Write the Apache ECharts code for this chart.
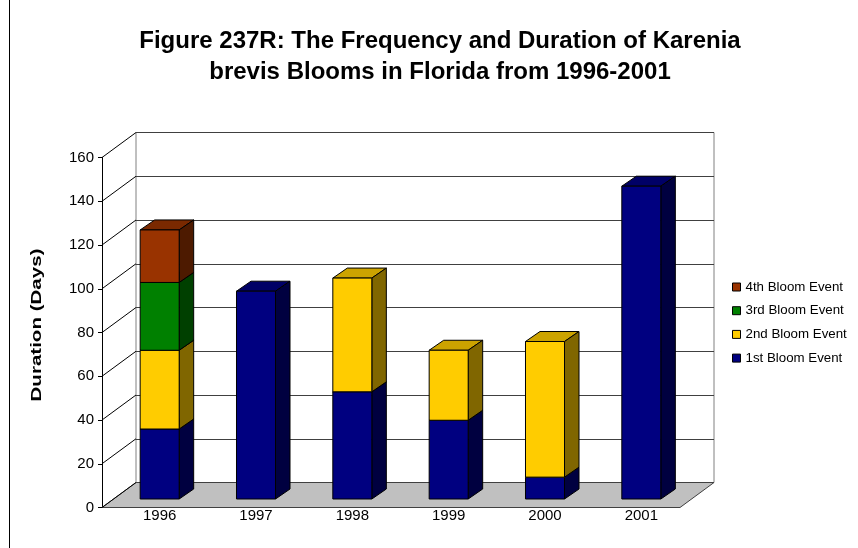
<!DOCTYPE html>
<html>
<head>
<meta charset="utf-8">
<script src="https://cdn.jsdelivr.net/npm/echarts@6/dist/echarts.min.js"></script>
<style>html,body{margin:0;padding:0;background:#fff}#c{width:858px;height:548px}</style>
</head>
<body>
<div id="c"></div>
<script>
// ---- data ----
const years = ['1996', '1997', '1998', '1999', '2000', '2001'];
const firstBloom  = [32, 95, 49, 36, 10, 143];
const secondBloom = [36, 0, 52, 32, 62, 0];
const thirdBloom  = [31, 0, 0, 0, 0, 0];
const fourthBloom = [24, 0, 0, 0, 0, 0];
const seriesNames = ['1st Bloom Event', '2nd Bloom Event', '3rd Bloom Event', '4th Bloom Event'];
const yTicks = [0, 20, 40, 60, 80, 100, 120, 140, 160];

// ---- styling constants ----
const DEPTH_DX = 34, DEPTH_DY = 25;     // wall depth (oblique projection)
const FRONT_DX = 9.5, FRONT_DY = 8.5;   // bar front face offset from front plane
const SIDE_DX = 14.5, SIDE_DY = 10;     // bar depth
const BAR_FRAC = 0.405;
const palette = [
  {front: '#000080', top: '#000066', side: '#000040'},
  {front: '#FFCC00', top: '#CCA300', side: '#806600'},
  {front: '#008000', top: '#006600', side: '#004000'},
  {front: '#993300', top: '#7A2900', side: '#4D1A00'}
];
const events = [firstBloom, secondBloom, thirdBloom, fourthBloom];
const FONT = 'Liberation Sans, Arial, sans-serif';

function barSeries(idx) {
  const col = palette[idx];
  const data = [];
  years.forEach((y, i) => {
    let base = 0;
    for (let k = 0; k < idx; k++) base += events[k][i];
    const v = events[idx][i];
    if (v > 0) data.push([i, base, base + v]);
  });
  return {
    type: 'custom',
    name: seriesNames[idx],
    z: 10 + idx,
    itemStyle: {color: col.front, borderColor: '#000', borderWidth: 1},
    encode: {x: 0, y: [1, 2]},
    data: data,
    renderItem: function (params, api) {
      const i = api.value(0);
      const p0 = api.coord([i, api.value(1)]);
      const p1 = api.coord([i, api.value(2)]);
      const bw = api.size([1, 0])[0] * BAR_FRAC;
      const xl = p0[0] + FRONT_DX - bw / 2, xr = xl + bw;
      const yb = p0[1] - FRONT_DY, yt = p1[1] - FRONT_DY;
      return {
        type: 'group',
        children: [
          {type: 'polygon', shape: {points: [[xl, yt], [xr, yt], [xr + SIDE_DX, yt - SIDE_DY], [xl + SIDE_DX, yt - SIDE_DY]]},
           style: {fill: col.top, stroke: '#000', lineWidth: 1}},
          {type: 'polygon', shape: {points: [[xr, yb], [xr + SIDE_DX, yb - SIDE_DY], [xr + SIDE_DX, yt - SIDE_DY], [xr, yt]]},
           style: {fill: col.side, stroke: '#000', lineWidth: 1}},
          {type: 'rect', shape: {x: xl, y: yt, width: bw, height: yb - yt},
           style: {fill: col.front, stroke: '#000', lineWidth: 1}}
        ]
      };
    }
  };
}

const chart = echarts.init(document.getElementById('c'), null, {renderer: 'canvas'});
const option = {
  animation: false,
  backgroundColor: '#fff',
  textStyle: {fontFamily: FONT},
  title: {
    text: 'Figure 237R: The Frequency and Duration of Karenia\nbrevis Blooms in Florida from 1996-2001',
    left: 435, top: 21, textAlign: 'center',
    textStyle: {fontSize: 24, fontWeight: 'bold', fontFamily: FONT, lineHeight: 31, color: '#000'}
  },
  legend: {
    orient: 'vertical', left: 727, top: 275,
    itemWidth: 8, itemHeight: 8, itemGap: 9.7, icon: 'rect',
    data: ['4th Bloom Event', '3rd Bloom Event', '2nd Bloom Event', '1st Bloom Event'],
    textStyle: {fontSize: 13.3, lineHeight: 14, color: '#000', fontFamily: FONT},
    itemStyle: {borderColor: '#000', borderWidth: 1}
  },
  grid: [
    {left: 102, top: 157.5, width: 578, height: 350},
    {left: 102 + DEPTH_DX, top: 157.5 - DEPTH_DY, width: 578, height: 350,
     show: true, backgroundColor: '#fff', borderColor: '#808080', borderWidth: 1}
  ],
  xAxis: [
    {type: 'category', gridIndex: 0, data: years,
     axisLine: {show: false}, axisTick: {show: false},
     axisLabel: {fontSize: 15, color: '#000', margin: 1, padding: [0, 0, 0, 19], fontFamily: FONT}},
    {type: 'category', gridIndex: 1, data: years, show: false}
  ],
  yAxis: [
    {type: 'value', gridIndex: 0, min: 0, max: 160, interval: 20,
     axisLine: {show: true, lineStyle: {color: '#000', width: 1}},
     axisTick: {show: true, length: 4, lineStyle: {color: '#000'}},
     axisLabel: {fontSize: 15, color: '#000', margin: 8, fontFamily: FONT},
     splitLine: {show: false}},
    {type: 'value', gridIndex: 1, min: 0, max: 160, interval: 20,
     axisLine: {show: false}, axisTick: {show: false}, axisLabel: {show: false},
     splitLine: {show: true, lineStyle: {color: '#404040', width: 1}}}
  ],
  series: [
    {
      type: 'custom', name: 'floor', z: 1, silent: true,
      data: [[0]],
      renderItem: function (params, api) {
        const cs = params.coordSys;
        const yb = cs.y + cs.height;
        return {
          type: 'polygon',
          shape: {points: [[cs.x, yb], [cs.x + cs.width, yb], [cs.x + cs.width + DEPTH_DX, yb - DEPTH_DY], [cs.x + DEPTH_DX, yb - DEPTH_DY]]},
          style: {fill: '#C0C0C0', stroke: '#404040', lineWidth: 1}
        };
      }
    },
    {
      type: 'custom', name: 'sidewall', z: 2, silent: true,
      data: yTicks.map(v => [0, v]),
      encode: {x: 0, y: 1},
      renderItem: function (params, api) {
        const cs = params.coordSys;
        const p = api.coord([0, api.value(1)]);
        return {
          type: 'line',
          shape: {x1: cs.x, y1: p[1], x2: cs.x + DEPTH_DX, y2: p[1] - DEPTH_DY},
          style: {stroke: '#000', lineWidth: 1}
        };
      }
    },
    barSeries(0), barSeries(1), barSeries(2), barSeries(3)
  ],
  graphic: [
    {type: 'text', x: 37, y: 325, rotation: Math.PI / 2, scaleX: 1.37,
     style: {text: 'Duration (Days)', font: 'bold 15px ' + FONT, fill: '#000', textAlign: 'center', textVerticalAlign: 'middle'}},
    {type: 'line', shape: {x1: 9.5, y1: 0, x2: 9.5, y2: 548}, style: {stroke: '#000', lineWidth: 1}}
  ]
};
chart.setOption(option);
</script>
</body>
</html>
